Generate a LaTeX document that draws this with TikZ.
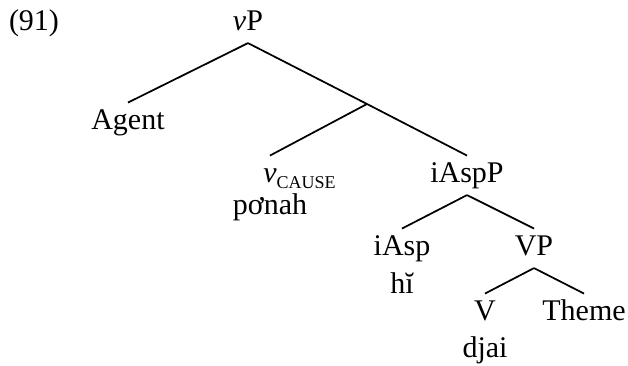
\documentclass[tikz,border=0pt]{standalone}
\usepackage{fontspec}
\setmainfont{Liberation Serif}
\usetikzlibrary{positioning}

\begin{document}
\begin{tikzpicture}[on grid,
  cat/.style={inner xsep=2pt,inner ysep=4.5pt,text height=15.3pt,text depth=4.95pt,font=\fontsize{22.5}{26}\selectfont},
  branch/.style={line width=1.3pt}]
  \useasboundingbox (-186pt,17.5pt) rectangle (285pt,-257pt);

  \node[cat] (vP) at (0,0) {\textit{v}P};
  \node[cat,left=160.5pt of vP] (exnum) {(91)};
  \node[cat,below left=74.25pt and 90pt of vP] (agent) {Agent};
  \coordinate[below right=60.5pt and 89.25pt of vP] (vbar);
  \node[cat,below right=114pt and 16.5pt of vP] (vcause) {\textit{v}\rlap{\raisebox{-4.5pt}{\fontsize{13.5}{15}\selectfont CAUSE}}};
  \node[cat,below=24pt of vcause] (ponah) {pơnah};
  \node[cat,below right=114pt and 164.25pt of vP] (iasppar) {iAspP};
  \node[cat,below left=54.75pt and 48.75pt of iasppar] (iasp) {iAsp};
  \node[cat,below=28.5pt of iasp] (hi) {hĭ};
  \node[cat,below right=54.75pt and 50.25pt of iasppar] (VP) {VP};
  \node[cat,below left=48.75pt and 36.75pt of VP] (V) {V};
  \node[cat,below=27.75pt of V] (djai) {djai};
  \node[cat,below right=48.75pt and 37.5pt of VP] (theme) {Theme};

  \draw[branch] (vP.south) -- (agent.north);
  \draw[branch] (vP.south) -- (vbar) -- (iasppar.north);
  \draw[branch] (vbar) -- (vcause.north);
  \draw[branch] (iasppar.south) -- (iasp.north);
  \draw[branch] (iasppar.south) -- (VP.north);
  \draw[branch] (VP.south) -- (V.north);
  \draw[branch] (VP.south) -- (theme.north);
\end{tikzpicture}
\end{document}
